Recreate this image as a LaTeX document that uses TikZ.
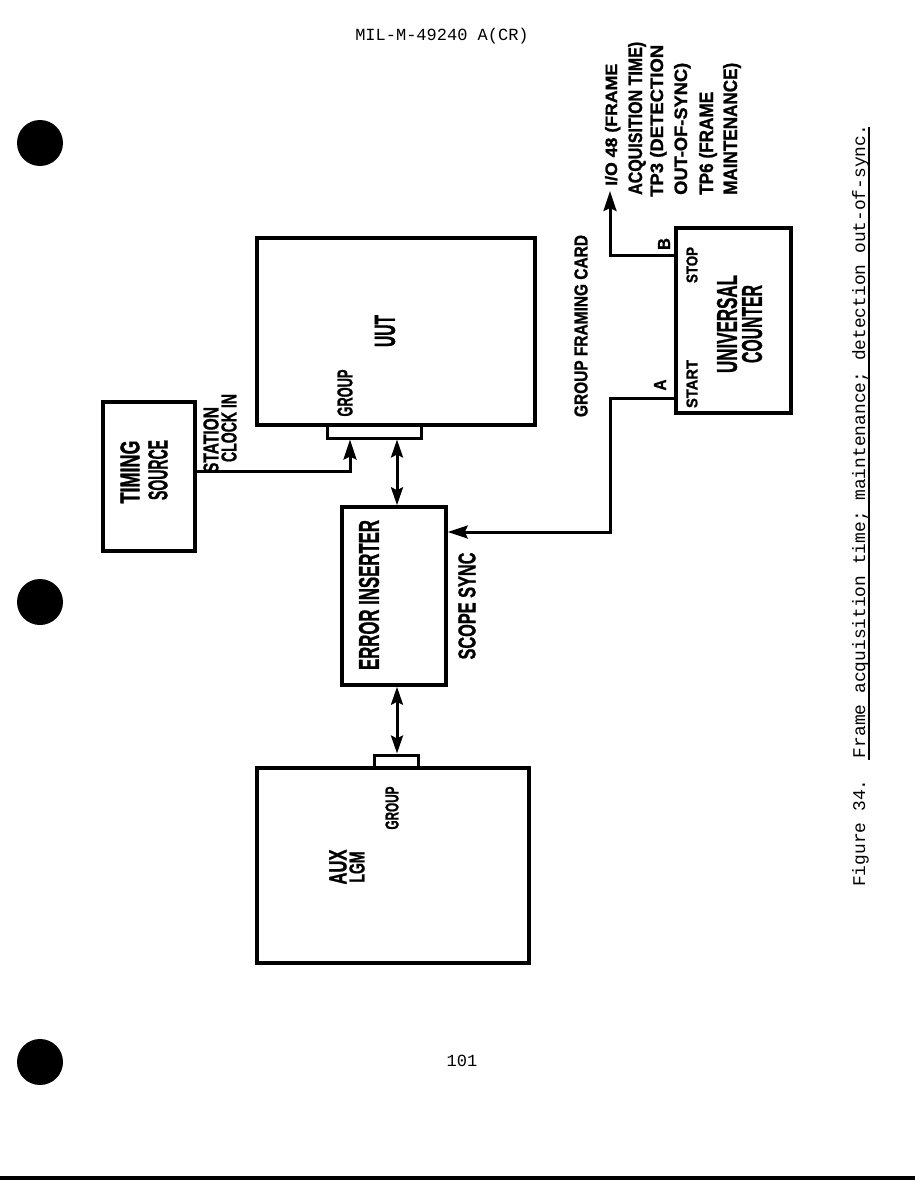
\documentclass[tikz,border=0pt]{standalone}
\usepackage{fontspec}
\usepackage{graphicx}
\usetikzlibrary{arrows.meta}
\newfontfamily\lblf{Liberation Sans}[BoldFeatures={FakeBold=1.2}]
\newfontfamily\monof{Liberation Mono}
\newcommand\fitl[3]{\resizebox{#1pt}{#2pt}{\lblf\bfseries #3}}
\begin{document}
\begin{tikzpicture}[x=1pt,y=-1pt,
  box/.style={draw, line width=3.5pt, inner sep=0pt},
  tabbox/.style={draw, line width=3pt, inner sep=0pt},
  conn/.style={line width=3pt},
  tip/.style={-{Stealth[length=20pt,width=13pt,inset=3pt]}},
  dtip/.style={{Stealth[length=18pt,width=12pt,inset=3pt]}-{Stealth[length=18pt,width=12pt,inset=3pt]}},
  lab/.style={rotate=90, inner sep=0pt},
  mono/.style={inner sep=0pt, font=\monof\fontsize{17}{20}\selectfont},
]
\fill[white] (0,0) rectangle (915,1180);
\useasboundingbox (0,0) rectangle (915,1180);

% page furniture
\node[mono] (hdr) at (442,36) {MIL-M-49240 A(CR)};
\node[mono] (pgno) at (462,1061) {101};
\fill (40,143) circle (23pt);
\fill (40,602) circle (23pt);
\fill (40,1062) circle (23pt);
\fill (0,1176) rectangle (915,1180);

% boxes
\node[box, minimum width=278pt, minimum height=187pt] (uut) at (396,331.5) {};
\node[tabbox, minimum width=94pt, minimum height=13pt] (uuttab) at (374,431.5) {};
\node[box, minimum width=92pt, minimum height=149pt] (ts) at (149,476.5) {};
\node[box, minimum width=104pt, minimum height=178pt] (ei) at (394,596) {};
\node[box, minimum width=272pt, minimum height=195pt] (aux) at (393,865.5) {};
\node[tabbox, minimum width=44pt, minimum height=13pt] (auxtab) at (396,761.5) {};
\node[box, minimum width=115pt, minimum height=185pt] (uc) at (733.5,320.5) {};

% labels
\node[lab] (uutl) at (385,331) {\fitl{32}{20}{UUT}};
\node[lab] (uutg) at (345,393) {\fitl{47}{15}{GROUP}};
\node[lab] (tsl1) at (130,472) {\fitl{63}{19}{TIMING}};
\node[lab] (tsl2) at (158,470) {\fitl{60}{19}{SOURCE}};
\node[lab] (stl1) at (211,440) {\fitl{66}{15}{STATION}};
\node[lab] (stl2) at (229,428) {\fitl{68}{15}{CLOCK IN}};
\node[lab] (eil) at (369,595) {\fitl{150}{20}{ERROR INSERTER}};
\node[lab] (ssl) at (467,606) {\fitl{107}{17}{SCOPE SYNC}};
\node[lab] (auxl1) at (338,867) {\fitl{35}{17}{AUX}};
\node[lab] (auxl2) at (357,867) {\fitl{31}{15}{LGM}};
\node[lab] (auxg) at (392,808) {\fitl{43}{13}{GROUP}};
\node[lab] (gfc) at (581,326) {\fitl{182}{13}{GROUP FRAMING CARD}};
\node[lab] (la) at (660,385) {\fitl{11}{12}{A}};
\node[lab] (lb) at (664,244) {\fitl{12}{12}{B}};
\node[lab] (lstart) at (692,384) {\fitl{48}{11}{START}};
\node[lab] (lstop) at (692,265) {\fitl{36}{11}{STOP}};
\node[lab] (ucl1) at (727,324) {\fitl{98}{20}{UNIVERSAL}};
\node[lab] (ucl2) at (752,324) {\fitl{78}{20}{COUNTER}};

\node[lab, anchor=base west] (n1) at (617,186) {\fitl{122}{12}{I/O 48 (FRAME}};
\node[lab, anchor=base west] (n2) at (642,195) {\fitl{153}{14}{ACQUISITION TIME)}};
\node[lab, anchor=base west] (n3) at (663,197) {\fitl{152}{13}{TP3 (DETECTION}};
\node[lab, anchor=base west] (n4) at (687,195) {\fitl{132}{13}{OUT-OF-SYNC)}};
\node[lab, anchor=base west] (n5) at (713,195) {\fitl{103}{14}{TP6 (FRAME}};
\node[lab, anchor=base west] (n6) at (737,195) {\fitl{132}{14}{MAINTENANCE)}};

% caption
\node[lab, anchor=base west] (cap) at (865,887) {\resizebox{762pt}{!}{\monof\fontsize{18}{20}\selectfont Figure 34.\ \ Frame acquisition time; maintenance; detection out-of-sync.}};
\draw[line width=1.3pt] (869,127) -- (869,760);

% connectors
\coordinate (bout) at (610,191);
\draw[conn,tip] (ts.east |- 0,471) -| (uuttab.south -| 350,0);
\draw[conn,dtip] (uuttab.south -| 397,0) -- (ei.north -| 397,0);
\draw[conn,dtip] (ei.south -| 397,0) -- (auxtab.north -| 397,0);
\draw[conn,tip] (uc.west |- 0,398) -| (610,532) -- (ei.east |- 0,532);
\draw[conn,tip] (uc.west |- 0,255) -| (bout);
\end{tikzpicture}
\end{document}
